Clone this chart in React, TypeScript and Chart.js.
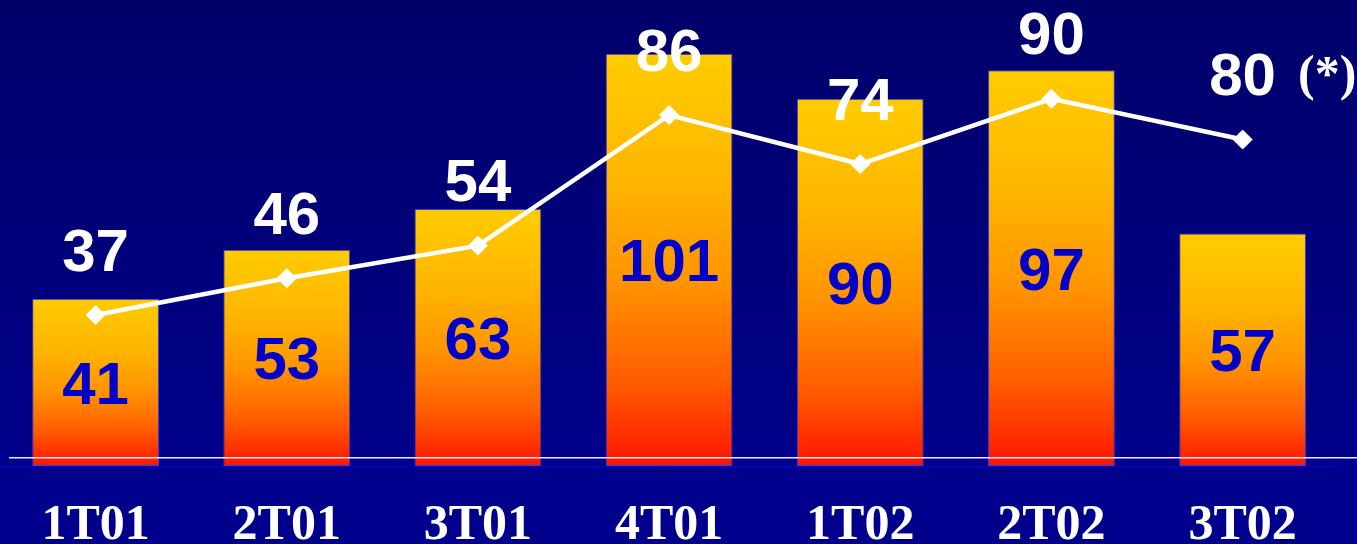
import React, { useEffect, useRef } from "react";
import { Chart, registerables } from "chart.js";

Chart.register(...registerables);

// ---- data ----
const categories = ["1T01", "2T01", "3T01", "4T01", "1T02", "2T02", "3T02"];
const barValues = [41, 53, 63, 101, 90, 97, 57];
const lineValues = [37, 46, 54, 86, 74, 90, 80];
const lastLabelNote = "(*)";
const yMin = 0;
const yMax = 114.2;

const SANS = '"Liberation Sans", Arial, sans-serif';
const SERIF = '"Liberation Serif", "Times New Roman", serif';

export default function App() {
  const ref = useRef<HTMLCanvasElement | null>(null);

  useEffect(() => {
    const canvas = ref.current;
    if (!canvas) return;

    const bgPlugin = {
      id: "bgPlugin",
      beforeDraw(chart: any) {
        const { ctx, width, height, chartArea } = chart;
        const b = chartArea.bottom;
        ctx.save();
        const g = ctx.createLinearGradient(0, 0, 0, b);
        g.addColorStop(0, "#00006A");
        g.addColorStop(1, "#00008A");
        ctx.fillStyle = g;
        ctx.fillRect(0, 0, width, b);
        ctx.fillStyle = "#00008C";
        ctx.fillRect(0, b, width, height - b);
        ctx.restore();
      },
    };

    const labelPlugin = {
      id: "labelPlugin",
      afterDatasetsDraw(chart: any) {
        const ctx = chart.ctx;
        const lineMeta = chart.getDatasetMeta(0);
        const barMeta = chart.getDatasetMeta(1);
        ctx.save();
        // thin white baseline
        const by = chart.chartArea.bottom - 8.25;
        ctx.strokeStyle = "#EEEEF8";
        ctx.lineWidth = 1.5;
        ctx.beginPath();
        ctx.moveTo(9, by);
        ctx.lineTo(chart.width, by);
        ctx.stroke();

        ctx.textAlign = "center";
        ctx.textBaseline = "alphabetic";
        ctx.font = `bold 60px ${SANS}`;
        // bar values inside bars
        ctx.fillStyle = "#0000C8";
        barMeta.data.forEach((el: any, i: number) => {
          const cy = (el.y + el.base) / 2;
          ctx.fillText(String(barValues[i]), el.x, cy + 21.5);
        });
        // line values above points
        ctx.fillStyle = "#FFFFFF";
        lineMeta.data.forEach((el: any, i: number) => {
          const cy = el.y - 66;
          ctx.fillText(String(lineValues[i]), el.x, cy + 21.5);
          if (i === lineValues.length - 1) {
            ctx.save();
            ctx.textAlign = "left";
            ctx.font = `bold 50px ${SERIF}`;
            ctx.fillText(lastLabelNote, el.x + 55.5, cy + 16);
            ctx.restore();
          }
        });
        ctx.restore();
      },
    };

    const chart = new Chart(canvas, {
      type: "bar",
      data: {
        labels: categories,
        datasets: [
          {
            type: "line",
            data: lineValues,
            borderColor: "#FFFFFF",
            borderWidth: 4.5,
            backgroundColor: "#FFFFFF",
            pointStyle: "rectRot",
            pointRadius: 9.5,
            pointBorderWidth: 1,
            pointBackgroundColor: "#FFFFFF",
            pointBorderColor: "#FFFFFF",
            tension: 0,
            fill: false,
            clip: false,
            order: 0,
          } as any,
          {
            type: "bar",
            data: barValues,
            backgroundColor: (c: any) => {
              const ch = c.chart;
              if (!ch.chartArea || c.raw === undefined) return "#FFCC00";
              const ys = ch.scales.y;
              const top = ys.getPixelForValue(c.raw);
              const bottom = ys.getPixelForValue(0);
              const g = ch.ctx.createLinearGradient(0, top, 0, bottom);
              g.addColorStop(0, "#FFCC00");
              g.addColorStop(0.3, "#FFB600");
              g.addColorStop(0.55, "#FF9400");
              g.addColorStop(0.8, "#FF5A00");
              g.addColorStop(1, "#FF1400");
              return g;
            },
            borderColor: "#3B3BD8",
            borderWidth: 1,
            borderSkipped: false,
            barPercentage: 0.6635,
            categoryPercentage: 1,
            order: 1,
          } as any,
        ],
      },
      options: {
        responsive: false,
        animation: false,
        devicePixelRatio: 1,
        layout: { autoPadding: false, padding: { left: -1.7, right: 18.8, top: 0, bottom: 0 } },
        plugins: {
          legend: { display: false },
          tooltip: { enabled: false },
        },
        scales: {
          x: {
            grid: { display: false },
            border: { display: true, color: "#0000DD", width: 1 },
            ticks: {
              color: "#FFFFFF",
              padding: 22,
              font: { family: SERIF, weight: "bold", size: 50 },
            },
            afterFit: (s: any) => {
              s.height = 78;
              s.paddingLeft = 0;
              s.paddingRight = 0;
            },
          },
          y: {
            display: false,
            min: yMin,
            max: yMax,
          },
        },
      } as any,
      plugins: [bgPlugin, labelPlugin],
    });

    return () => chart.destroy();
  }, []);

  return (
    <div style={{ position: "fixed", left: 0, top: 0, width: 1357, height: 544 }}>
      <canvas ref={ref} width={1357} height={544} style={{ display: "block" }} />
    </div>
  );
}
